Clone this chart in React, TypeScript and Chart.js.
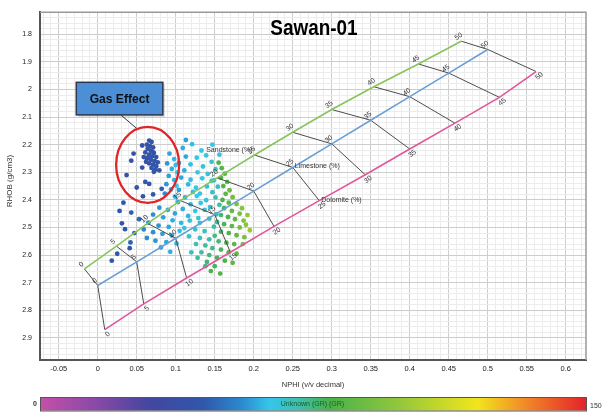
import { useEffect, useRef } from 'react';
import { Chart, registerables } from 'chart.js';

Chart.register(...registerables);

// ---------- data ----------
const porosityLabels = ['0', '5', '10', '15', '20', '25', '30', '35', '40', '45', '50'];

const sandNphi = [-0.017, 0.024, 0.064, 0.106, 0.153, 0.201, 0.25, 0.3, 0.354, 0.411, 0.466];
const sandRhob = [2.65, 2.5675, 2.485, 2.4025, 2.32, 2.2375, 2.155, 2.0725, 1.99, 1.9075, 1.825];
const limeNphi = [0, 0.05, 0.1, 0.15, 0.2, 0.25, 0.3, 0.35, 0.4, 0.45, 0.5];
const limeRhob = [2.71, 2.6245, 2.539, 2.4535, 2.368, 2.2825, 2.197, 2.1115, 2.026, 1.9405, 1.855];
const doloNphi = [0.009, 0.059, 0.114, 0.17, 0.226, 0.284, 0.343, 0.4, 0.458, 0.515, 0.562];
const doloRhob = [2.87, 2.7765, 2.683, 2.5895, 2.496, 2.4025, 2.309, 2.2155, 2.122, 2.0285, 1.935];

const xTicks = [-0.05, 0, 0.05, 0.1, 0.15, 0.2, 0.25, 0.3, 0.35, 0.4, 0.45, 0.5, 0.55, 0.6];
const xTickLabels = ['-0.05', '0', '0.05', '0.1', '0.15', '0.2', '0.25', '0.3', '0.35', '0.4', '0.45', '0.5', '0.55', '0.6'];
const yTicks = [1.8, 1.9, 2, 2.1, 2.2, 2.3, 2.4, 2.5, 2.6, 2.7, 2.8, 2.9];
const yTickLabels = ['1.8', '1.9', '2', '2.1', '2.2', '2.3', '2.4', '2.5', '2.6', '2.7', '2.8', '2.9'];

const grMin = 0;
const grMax = 150;

// [NPHI, RHOB, GR]
const gasPoints: [number, number, number][] = [
  [0.066, 2.185, 40], [0.069, 2.19, 41], [0.063, 2.2, 39], [0.067, 2.205, 42], [0.071, 2.21, 40],
  [0.064, 2.215, 41], [0.068, 2.222, 43], [0.061, 2.228, 40], [0.072, 2.23, 42], [0.066, 2.236, 41],
  [0.07, 2.242, 43], [0.075, 2.245, 42], [0.063, 2.25, 40], [0.068, 2.255, 44], [0.073, 2.26, 42],
  [0.077, 2.264, 43], [0.066, 2.268, 41], [0.071, 2.272, 44], [0.075, 2.278, 42], [0.069, 2.284, 43],
  [0.074, 2.29, 45], [0.079, 2.293, 43], [0.072, 2.298, 44], [0.062, 2.262, 41], [0.059, 2.245, 40],
  [0.065, 2.245, 42], [0.07, 2.225, 41],
  [0.046, 2.232, 40], [0.057, 2.203, 39], [0.037, 2.31, 41], [0.057, 2.283, 42], [0.05, 2.355, 43],
  [0.061, 2.335, 44], [0.066, 2.342, 42], [0.071, 2.38, 45], [0.058, 2.387, 44], [0.082, 2.36, 46],
  [0.043, 2.258, 40],
];

const bluePoints: [number, number, number][] = [
  [0.033, 2.41, 44], [0.043, 2.446, 46], [0.031, 2.485, 44], [0.035, 2.506, 45], [0.042, 2.554, 47],
  [0.041, 2.575, 45], [0.025, 2.595, 43], [0.018, 2.62, 44], [0.053, 2.47, 48], [0.028, 2.44, 45],
  [0.047, 2.52, 47],
];

const cyanPoints: [number, number, number][] = [
  [0.092, 2.232, 59], [0.098, 2.252, 61], [0.089, 2.268, 57], [0.1, 2.274, 62], [0.095, 2.288, 60],
  [0.102, 2.3, 63], [0.091, 2.313, 58], [0.098, 2.328, 61], [0.088, 2.343, 57], [0.101, 2.349, 63],
  [0.094, 2.362, 60], [0.086, 2.377, 56], [0.099, 2.388, 61],
  [0.109, 2.212, 60], [0.121, 2.198, 62], [0.133, 2.221, 63], [0.113, 2.243, 59], [0.127, 2.247, 64],
  [0.139, 2.239, 65], [0.104, 2.266, 58], [0.119, 2.271, 62], [0.135, 2.279, 66], [0.146, 2.262, 67],
  [0.111, 2.293, 60], [0.128, 2.3, 63], [0.141, 2.306, 66], [0.151, 2.289, 68], [0.107, 2.319, 59],
  [0.119, 2.327, 62], [0.134, 2.322, 64], [0.146, 2.331, 67], [0.116, 2.344, 61], [0.126, 2.356, 63],
  [0.14, 2.351, 66], [0.104, 2.364, 58], [0.122, 2.371, 62], [0.131, 2.377, 64], [0.147, 2.372, 68],
  [0.112, 2.391, 60], [0.127, 2.386, 63], [0.139, 2.401, 66], [0.103, 2.408, 59], [0.119, 2.416, 61],
  [0.132, 2.411, 64], [0.144, 2.426, 67], [0.109, 2.433, 60], [0.125, 2.44, 63], [0.137, 2.436, 66],
  [0.099, 2.449, 59], [0.116, 2.458, 61], [0.129, 2.466, 64],
  [0.113, 2.183, 58], [0.147, 2.2, 64], [0.156, 2.236, 66],
  [0.079, 2.428, 57], [0.09, 2.436, 59], [0.071, 2.453, 56], [0.084, 2.463, 58], [0.096, 2.474, 60],
  [0.065, 2.482, 55], [0.078, 2.493, 57], [0.091, 2.498, 59], [0.059, 2.507, 55], [0.071, 2.517, 56],
  [0.083, 2.523, 58], [0.095, 2.529, 60], [0.063, 2.538, 56], [0.074, 2.548, 57], [0.088, 2.553, 59],
  [0.081, 2.572, 58], [0.093, 2.588, 60], [0.107, 2.483, 61], [0.105, 2.512, 62], [0.101, 2.558, 61],
];

const tealPoints: [number, number, number][] = [
  [0.118, 2.475, 66], [0.131, 2.483, 68], [0.143, 2.468, 70], [0.111, 2.502, 66], [0.125, 2.507, 68],
  [0.137, 2.513, 70], [0.149, 2.497, 72], [0.117, 2.532, 67], [0.131, 2.538, 69], [0.143, 2.543, 71],
  [0.152, 2.452, 72], [0.156, 2.418, 72], [0.151, 2.391, 70], [0.154, 2.352, 70], [0.149, 2.329, 69],
];

const greenPoints: [number, number, number][] = [
  [0.155, 2.265, 80], [0.159, 2.285, 82], [0.163, 2.305, 84], [0.158, 2.32, 80], [0.166, 2.335, 86],
  [0.161, 2.35, 82], [0.169, 2.365, 88], [0.164, 2.378, 84], [0.173, 2.39, 90], [0.16, 2.4, 80],
  [0.168, 2.41, 84], [0.178, 2.415, 92], [0.185, 2.43, 96], [0.162, 2.43, 78], [0.172, 2.44, 86],
  [0.182, 2.45, 92], [0.158, 2.455, 76], [0.167, 2.462, 80], [0.176, 2.47, 86], [0.187, 2.475, 94],
  [0.153, 2.48, 74], [0.162, 2.488, 78], [0.172, 2.495, 84], [0.182, 2.5, 90], [0.158, 2.515, 76],
  [0.168, 2.52, 80], [0.178, 2.528, 86], [0.188, 2.535, 92], [0.15, 2.53, 74], [0.155, 2.55, 76],
  [0.165, 2.555, 80], [0.175, 2.56, 84], [0.126, 2.56, 70], [0.138, 2.565, 72], [0.147, 2.575, 74],
  [0.158, 2.58, 78], [0.168, 2.59, 82], [0.178, 2.595, 86], [0.133, 2.59, 72], [0.143, 2.6, 75],
  [0.153, 2.61, 78], [0.163, 2.62, 80], [0.173, 2.628, 84], [0.14, 2.625, 76], [0.15, 2.64, 78],
  [0.145, 2.658, 80], [0.157, 2.667, 82], [0.138, 2.64, 74], [0.128, 2.61, 72], [0.12, 2.59, 70],
  [0.192, 2.455, 98], [0.19, 2.49, 96], [0.195, 2.51, 100], [0.186, 2.56, 92],
];

// annotation anchors (data coordinates)
const gasBox = { x0: -0.0275, x1: 0.0835, y0: 1.974, y1: 2.092 };
const gasLeader = { x0: 0.03, y0: 2.093, x1: 0.052, y1: 2.146 };
const gasEllipse = { cx: 0.064, cy: 2.273, rx: 0.0404, ry: 0.1375 };

// ---------- style ----------
const X_MIN = -0.074;
const X_MAX = 0.626;
const Y_MIN = 1.72;
const Y_MAX = 2.98;
const SAND_COLOR = '#86c55a';
const LIME_COLOR = '#6a9fd4';
const DOLO_COLOR = '#e0579b';
const TIE_COLOR = '#4d4d4d';
const FONT = '"Liberation Sans", Arial, sans-serif';

const grStops: [number, number[]][] = [
  [0, [198, 79, 169]],
  [0.1, [139, 73, 168]],
  [0.2, [68, 70, 160]],
  [0.3, [47, 88, 171]],
  [0.37, [43, 139, 208]],
  [0.42, [53, 198, 234]],
  [0.47, [61, 191, 180]],
  [0.53, [74, 178, 74]],
  [0.65, [142, 198, 60]],
  [0.8, [241, 229, 28]],
  [0.88, [243, 144, 38]],
  [1, [227, 32, 43]],
];

function grColor(gr: number): string {
  const t = Math.max(0, Math.min(1, (gr - grMin) / (grMax - grMin)));
  for (let i = 1; i < grStops.length; i++) {
    if (t <= grStops[i][0]) {
      const [t0, c0] = grStops[i - 1];
      const [t1, c1] = grStops[i];
      const f = (t - t0) / (t1 - t0);
      const c = c0.map((v, k) => Math.round(v + (c1[k] - v) * f));
      return `rgb(${c[0]},${c[1]},${c[2]})`;
    }
  }
  const c = grStops[grStops.length - 1][1];
  return `rgb(${c[0]},${c[1]},${c[2]})`;
}

function minorTicks(min: number, max: number, step: number) {
  const out: { value: number }[] = [];
  const k0 = Math.ceil(min / step - 1e-9);
  const k1 = Math.floor(max / step + 1e-9);
  for (let k = k0; k <= k1; k++) out.push({ value: Math.round(k * step * 10000) / 10000 });
  return out;
}

function majorIndex(list: number[], v: number) {
  return list.findIndex((m) => Math.abs(m - v) < 1e-6);
}

const overlayPlugin = {
  id: 'overlayPlugin',
  afterDatasetsDraw(chart: any) {
    const { ctx, scales } = chart;
    const xs = scales.x;
    const ys = scales.y;
    const px = (v: number) => xs.getPixelForValue(v);
    const py = (v: number) => ys.getPixelForValue(v);

    const drawSet = (nx: number[], ny: number[], side: number, name: string, nameMode: string) => {
      ctx.save();
      ctx.fillStyle = '#333';
      ctx.font = `7px ${FONT}`;
      ctx.textAlign = 'center';
      ctx.textBaseline = 'middle';
      const n = nx.length;
      for (let i = 0; i < n; i++) {
        const X = px(nx[i]);
        const Y = py(ny[i]);
        const a = Math.max(0, i - 1);
        const b = Math.min(n - 1, i + 1);
        const dx = px(nx[b]) - px(nx[a]);
        const dy = py(ny[b]) - py(ny[a]);
        const len = Math.hypot(dx, dy);
        const ux = dx / len;
        const uy = dy / len;
        const nxv = uy * side;
        const nyv = -ux * side;
        ctx.save();
        ctx.translate(X + nxv * 5.5, Y + nyv * 5.5);
        ctx.rotate(Math.atan2(dy, dx) - 0.12);
        ctx.fillText(porosityLabels[i], 0, 0);
        ctx.restore();
        if (i === 5) {
          ctx.save();
          ctx.textBaseline = 'middle';
          if (nameMode === 'left') {
            ctx.textAlign = 'right';
            ctx.fillText(name, X - 2, Y - 4.5);
          } else {
            ctx.textAlign = 'left';
            ctx.fillText(name, X + 2, Y - 1);
          }
          ctx.restore();
        }
      }
      ctx.restore();
    };
    drawSet(sandNphi, sandRhob, 1, 'Sandstone (%)', 'left');
    drawSet(limeNphi, limeRhob, 1, 'Limestone (%)', 'right');
    drawSet(doloNphi, doloRhob, -1, 'Dolomite (%)', 'right');

    // gas effect annotation
    ctx.save();
    const bx0 = px(gasBox.x0);
    const bx1 = px(gasBox.x1);
    const by0 = py(gasBox.y0);
    const by1 = py(gasBox.y1);
    ctx.strokeStyle = '#333';
    ctx.lineWidth = 1;
    ctx.beginPath();
    ctx.moveTo(px(gasLeader.x0), py(gasLeader.y0));
    ctx.lineTo(px(gasLeader.x1), py(gasLeader.y1));
    ctx.stroke();
    ctx.fillStyle = 'rgba(0,0,0,0.15)';
    ctx.fillRect(bx0 + 2, by0 + 2, bx1 - bx0, by1 - by0);
    ctx.fillStyle = '#4d8fd6';
    ctx.fillRect(bx0, by0, bx1 - bx0, by1 - by0);
    ctx.strokeStyle = '#2b3850';
    ctx.lineWidth = 1.5;
    ctx.strokeRect(bx0, by0, bx1 - bx0, by1 - by0);
    ctx.fillStyle = '#111';
    ctx.textAlign = 'center';
    ctx.textBaseline = 'middle';
    ctx.translate((bx0 + bx1) / 2, (by0 + by1) / 2 + 0.5);
    ctx.scale(0.93, 1);
    ctx.font = `bold 13px ${FONT}`;
    ctx.fillText('Gas Effect', 0, 0);
    ctx.restore();

    ctx.save();
    ctx.strokeStyle = '#e0252a';
    ctx.lineWidth = 2.3;
    const ecx = px(gasEllipse.cx);
    const ecy = py(gasEllipse.cy);
    const erx = Math.abs(px(gasEllipse.cx + gasEllipse.rx) - ecx);
    const ery = Math.abs(py(gasEllipse.cy + gasEllipse.ry) - ecy);
    ctx.beginPath();
    ctx.ellipse(ecx, ecy, erx, ery, 0, 0, Math.PI * 2);
    ctx.stroke();
    ctx.restore();
  },
  afterDraw(chart: any) {
    const { ctx, chartArea } = chart;
    const { left, right, top, bottom } = chartArea;
    ctx.save();
    ctx.strokeStyle = '#9a9a9a';
    ctx.lineWidth = 1.5;
    ctx.beginPath();
    ctx.moveTo(left, top);
    ctx.lineTo(right, top);
    ctx.lineTo(right, bottom);
    ctx.stroke();

    ctx.save();
    ctx.fillStyle = '#000';
    ctx.textAlign = 'center';
    ctx.textBaseline = 'alphabetic';
    ctx.translate(314, 35);
    ctx.scale(0.86, 1);
    ctx.font = `bold 22px ${FONT}`;
    ctx.fillText('Sawan-01', 0, 0);
    ctx.restore();

    ctx.fillStyle = '#333';
    ctx.font = `7.5px ${FONT}`;
    ctx.textAlign = 'center';
    ctx.textBaseline = 'middle';
    ctx.fillText('NPHI (v/v decimal)', (left + right) / 2, 385);
    ctx.save();
    ctx.translate(10, 181);
    ctx.rotate(-Math.PI / 2);
    ctx.font = `8px ${FONT}`;
    ctx.fillText('RHOB (g/cm3)', 0, 0);
    ctx.restore();

    const cbTop = 397;
    const cbH = 13.5;
    const grad = ctx.createLinearGradient(left, 0, right + 1, 0);
    grStops.forEach(([t, c]) => grad.addColorStop(t, `rgb(${c[0]},${c[1]},${c[2]})`));
    ctx.fillStyle = grad;
    ctx.fillRect(left, cbTop, right + 1 - left, cbH);
    ctx.strokeStyle = '#555';
    ctx.lineWidth = 1;
    ctx.strokeRect(left + 0.5, cbTop + 0.5, right - left, cbH);
    ctx.font = `7px ${FONT}`;
    ctx.fillStyle = '#1f5a22';
    ctx.textAlign = 'center';
    ctx.fillText('Unknown (GR) (GR)', 312.5, cbTop + cbH / 2 + 0.5);
    ctx.fillStyle = '#333';
    ctx.font = `bold 7px ${FONT}`;
    ctx.textAlign = 'right';
    ctx.fillText(String(grMin), left - 3, cbTop + cbH / 2);
    ctx.textAlign = 'left';
    ctx.font = `7px ${FONT}`;
    ctx.fillText(String(grMax), right + 4, cbTop + cbH / 2 + 2);
    ctx.restore();
  },
};

export default function App() {
  const canvasRef = useRef<HTMLCanvasElement | null>(null);

  useEffect(() => {
    document.body.style.margin = '0';
    const canvas = canvasRef.current;
    if (!canvas) return;

    const points = [...gasPoints, ...bluePoints, ...cyanPoints, ...tealPoints, ...greenPoints];
    const datasets: any[] = [];

    datasets.push({
      type: 'scatter',
      data: points.map((p) => ({ x: p[0], y: p[1] })),
      pointRadius: 2.4,
      pointBackgroundColor: points.map((p) => grColor(p[2])),
      pointBorderWidth: 0,
      pointBorderColor: 'rgba(0,0,0,0)',
      order: 10,
    });

    const lith: [number[], number[], string][] = [
      [sandNphi, sandRhob, SAND_COLOR],
      [limeNphi, limeRhob, LIME_COLOR],
      [doloNphi, doloRhob, DOLO_COLOR],
    ];
    lith.forEach(([nx, ny, col]) => {
      datasets.push({
        type: 'scatter',
        showLine: true,
        data: nx.map((v, i) => ({ x: v, y: ny[i] })),
        borderColor: col,
        borderWidth: 1.6,
        pointRadius: 0,
        order: 2,
      });
    });

    porosityLabels.forEach((_, i) => {
      datasets.push({
        type: 'scatter',
        showLine: true,
        data: [
          { x: sandNphi[i], y: sandRhob[i] },
          { x: limeNphi[i], y: limeRhob[i] },
          { x: doloNphi[i], y: doloRhob[i] },
        ],
        borderColor: TIE_COLOR,
        borderWidth: 1,
        pointRadius: 0,
        order: 3,
      });
    });

    const chart = new Chart(canvas, {
      type: 'scatter',
      data: { datasets },
      options: {
        responsive: false,
        animation: false,
        events: [],
        layout: { padding: { left: 0, right: 17, top: 7, bottom: 0 } },
        plugins: {
          legend: { display: false },
          tooltip: { enabled: false },
          title: { display: false },
        },
        scales: {
          x: {
            type: 'linear',
            min: X_MIN,
            max: X_MAX,
            afterBuildTicks: (s: any) => {
              s.ticks = minorTicks(X_MIN, X_MAX, 0.01);
            },
            afterFit: (s: any) => {
              s.height = 57;
            },
            grid: {
              drawTicks: false,
              color: (c: any) => (c.tick && majorIndex(xTicks, c.tick.value) >= 0 ? '#cdcdcd' : '#ececec'),
              lineWidth: 1,
            },
            border: { display: true, color: '#555', width: 2 },
            ticks: {
              autoSkip: false,
              maxRotation: 0,
              padding: 4,
              color: '#222',
              font: { size: 7.5, family: FONT },
              callback: (v: any) => {
                const i = majorIndex(xTicks, Number(v));
                return i >= 0 ? xTickLabels[i] : '';
              },
            },
          },
          y: {
            type: 'linear',
            reverse: true,
            min: Y_MIN,
            max: Y_MAX,
            afterBuildTicks: (s: any) => {
              s.ticks = minorTicks(Y_MIN, Y_MAX, 0.02);
            },
            afterFit: (s: any) => {
              s.width = 40;
            },
            grid: {
              drawTicks: false,
              color: (c: any) => (c.tick && majorIndex(yTicks, c.tick.value) >= 0 ? '#cdcdcd' : '#ececec'),
              lineWidth: 1,
            },
            border: { display: true, color: '#555', width: 2 },
            ticks: {
              autoSkip: false,
              padding: 8,
              color: '#222',
              font: { size: 7, family: FONT },
              callback: (v: any) => {
                const i = majorIndex(yTicks, Number(v));
                return i >= 0 ? yTickLabels[i] : '';
              },
            },
          },
        },
      },
      plugins: [overlayPlugin],
    } as any);

    return () => chart.destroy();
  }, []);

  return (
    <div style={{ position: 'absolute', left: 0, top: 0, width: 603, height: 417, background: '#fff' }}>
      <canvas ref={canvasRef} width={603} height={417} style={{ display: 'block', width: 603, height: 417 }} />
    </div>
  );
}
